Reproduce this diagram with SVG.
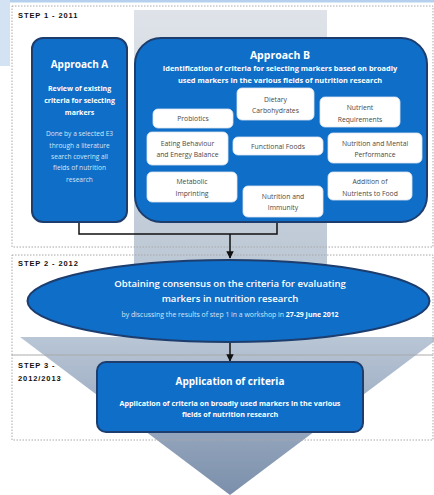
<svg xmlns="http://www.w3.org/2000/svg" width="434" height="495" viewBox="0 0 434 495">
  <defs>
    <linearGradient id="colG" x1="0" y1="0" x2="0" y2="1">
      <stop offset="0" stop-color="#dfe3e9"/>
      <stop offset="1" stop-color="#b3c0d0"/>
    </linearGradient>
    <linearGradient id="headG" x1="0" y1="0" x2="0" y2="1">
      <stop offset="0" stop-color="#b9c6d6"/>
      <stop offset="1" stop-color="#7b8fab"/>
    </linearGradient>
    <marker id="arr" viewBox="0 0 10 10" refX="9" refY="5" markerWidth="5" markerHeight="5" orient="auto">
      <path d="M0,0 L10,5 L0,10 z" fill="#111"/>
    </marker>
    <style>
      .step { fill: none; stroke: #a8a8a8; stroke-width: 1; stroke-dasharray: 1.5 1.5; }
      .stepLbl { font-family: "Liberation Sans", Arial, sans-serif; font-weight: bold; font-size: 7.5px; fill: #111; letter-spacing: 0.9px; }
      .blue { fill: #0f6ec7; stroke: #1c3d6e; stroke-width: 2; }
      .wbox { fill: #ffffff; stroke: #dce6f2; stroke-width: 0.8; }
      .t { font-family: "Open Sans", "Liberation Sans", Arial, sans-serif; text-anchor: middle; }
      .wt { fill: #ffffff; }
      .lt { fill: #d6e6f7; }
      .dk { fill: #4a4a4a; font-size: 6.8px; }
      .conn { fill: none; stroke: #111; stroke-width: 1.5; }
    </style>
  </defs>

  <rect width="434" height="495" fill="#ffffff"/>
  <!-- top-left light artefacts -->
  <rect x="0" y="0" width="434" height="2.5" fill="#b5d0ec"/>
  <rect x="0" y="0" width="10" height="66" fill="#d3e3f4"/>

  <!-- background arrow -->
  <g id="background-arrow">
    <rect x="134" y="10" width="193" height="330" fill="url(#colG)"/>
    <polygon points="20,337 440,337 230,495" fill="url(#headG)"/>
  </g>

  <!-- step frames -->
  <g id="step1">
    <rect class="step" x="12" y="6" width="421" height="241"/>
    <text class="stepLbl" x="18" y="18">STEP 1 - 2011</text>
  </g>
  <g id="step2">
    <rect class="step" x="12" y="255" width="421" height="100"/>
    <text class="stepLbl" x="18" y="266">STEP 2 - 2012</text>
  </g>
  <g id="step3">
    <rect class="step" x="12" y="355" width="421" height="85"/>
    <text class="stepLbl" x="18" y="368">STEP 3 -</text>
    <text class="stepLbl" x="18" y="381">2012/2013</text>
  </g>

  <!-- connectors -->
  <g id="connectors">
    <polyline class="conn" points="79,222 79,234 277,234 277,222"/>
    <line class="conn" x1="230" y1="234" x2="230" y2="258" marker-end="url(#arr)"/>
    <line class="conn" x1="230" y1="342" x2="230" y2="361" marker-end="url(#arr)"/>
  </g>

  <!-- Approach A -->
  <g id="approachA">
    <rect class="blue" x="32" y="38" width="95" height="184" rx="11"/>
    <text class="t wt" x="79.5" y="68" font-size="10" font-weight="bold">Approach A</text>
    <text class="t wt" x="79.5" y="91" font-size="7" font-weight="bold">Review of existing</text>
    <text class="t wt" x="79.5" y="103" font-size="7" font-weight="bold">criteria for selecting</text>
    <text class="t wt" x="79.5" y="115" font-size="7" font-weight="bold">markers</text>
    <text class="t lt" x="79.5" y="135.5" font-size="6.6">Done by a selected E3</text>
    <text class="t lt" x="79.5" y="147.5" font-size="6.6">through a literature</text>
    <text class="t lt" x="79.5" y="158.5" font-size="6.6">search covering all</text>
    <text class="t lt" x="79.5" y="169.5" font-size="6.6">fields of nutrition</text>
    <text class="t lt" x="79.5" y="181.5" font-size="6.6">research</text>
  </g>

  <!-- Approach B -->
  <g id="approachB">
    <rect class="blue" x="135" y="38" width="292" height="184" rx="26"/>
    <text class="t wt" x="280" y="59" font-size="10.5" font-weight="bold">Approach B</text>
    <text class="t wt" x="280" y="71" font-size="7.4" font-weight="bold">Identification of criteria for selecting markers based on broadly</text>
    <text class="t wt" x="280" y="83" font-size="7.4" font-weight="bold">used markers in the various fields of nutrition research</text>
  </g>

  <g id="dietary-carbohydrates">
    <rect class="wbox" x="237" y="88" width="77" height="32" rx="5"/>
    <text class="t dk" x="275.5" y="101.5">Dietary</text>
    <text class="t dk" x="275.5" y="112.5">Carbohydrates</text>
  </g>
  <g id="probiotics">
    <rect class="wbox" x="153" y="109" width="80" height="19" rx="5"/>
    <text class="t dk" x="193" y="120.5">Probiotics</text>
  </g>
  <g id="nutrient-requirements">
    <rect class="wbox" x="320" y="97" width="80" height="30" rx="5"/>
    <text class="t dk" x="360" y="109.5">Nutrient</text>
    <text class="t dk" x="360" y="122">Requirements</text>
  </g>
  <g id="eating-behaviour">
    <rect class="wbox" x="147" y="132" width="81" height="33" rx="5"/>
    <text class="t dk" x="187.5" y="145.5">Eating Behaviour</text>
    <text class="t dk" x="187.5" y="156.5">and Energy Balance</text>
  </g>
  <g id="functional-foods">
    <rect class="wbox" x="233" y="137" width="90" height="18" rx="5"/>
    <text class="t dk" x="278" y="149">Functional Foods</text>
  </g>
  <g id="nutrition-mental">
    <rect class="wbox" x="328" y="133" width="94" height="30" rx="5"/>
    <text class="t dk" x="375" y="145.5">Nutrition and Mental</text>
    <text class="t dk" x="375" y="156.5">Performance</text>
  </g>
  <g id="metabolic-imprinting">
    <rect class="wbox" x="147" y="172" width="90" height="30" rx="5"/>
    <text class="t dk" x="192" y="183.5">Metabolic</text>
    <text class="t dk" x="192" y="195.5">Imprinting</text>
  </g>
  <g id="nutrition-immunity">
    <rect class="wbox" x="243" y="186" width="80" height="31" rx="5"/>
    <text class="t dk" x="283" y="198.5">Nutrition and</text>
    <text class="t dk" x="283" y="209.5">Immunity</text>
  </g>
  <g id="addition-nutrients">
    <rect class="wbox" x="328" y="172" width="84" height="28" rx="5"/>
    <text class="t dk" x="370" y="183.5">Addition of</text>
    <text class="t dk" x="370" y="195.5">Nutrients to Food</text>
  </g>

  <!-- Step 2 ellipse -->
  <g id="consensus">
    <ellipse class="blue" cx="228.5" cy="301" rx="201" ry="41"/>
    <text class="t wt" x="230" y="286.5" font-size="9.6" font-weight="600">Obtaining consensus on the criteria for evaluating</text>
    <text class="t wt" x="230" y="301.5" font-size="9.6" font-weight="600">markers in nutrition research</text>
    <text class="t lt" x="230" y="316.5" font-size="6.9">by discussing the results of step 1 in a workshop in <tspan font-weight="bold" fill="#ffffff">27-29 June 2012</tspan></text>
  </g>

  <!-- Step 3 box -->
  <g id="application">
    <rect class="blue" x="97" y="362" width="266" height="70" rx="9"/>
    <text class="t wt" x="230" y="384.5" font-size="10" font-weight="bold">Application of criteria</text>
    <text class="t wt" x="230" y="405.5" font-size="7.2" font-weight="bold">Application of criteria on broadly used markers in the various</text>
    <text class="t wt" x="230" y="416.5" font-size="7.2" font-weight="bold">fields of nutrition research</text>
  </g>
</svg>
